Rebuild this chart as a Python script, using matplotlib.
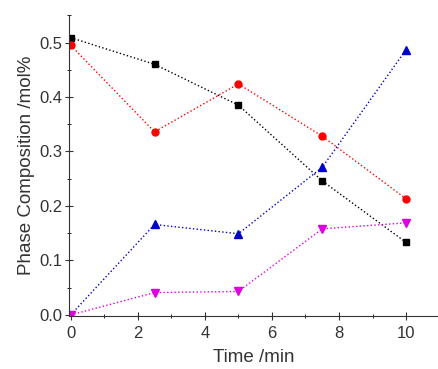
import numpy as np
import matplotlib
matplotlib.use('Agg')
import matplotlib.pyplot as plt
from matplotlib.ticker import MultipleLocator

plt.rcParams['font.family'] = ['Liberation Sans', 'DejaVu Sans']

# datos
tiempo = [0, 2.5, 5, 7.5, 10]
negro = [0.509, 0.460, 0.385, 0.246, 0.133]
rojo = [0.495, 0.336, 0.424, 0.328, 0.213]
azul = [0.0, 0.166, 0.149, 0.271, 0.487]
magenta = [0.0, 0.041, 0.043, 0.158, 0.169]

fig = plt.figure(figsize=(4.38, 3.69), dpi=100)
ax = fig.add_axes([0.1575, 0.1436, 0.8425, 0.815])

ax.plot(tiempo, negro, marker='s', linestyle=':', color='black', markersize=4.5, linewidth=1)
ax.plot(tiempo, rojo, marker='o', linestyle=':', color='red', markersize=5, linewidth=1)
ax.plot(tiempo, azul, marker='^', linestyle=':', color='#0000cc', markersize=5.5, linewidth=1)
ax.plot(tiempo, magenta, marker='v', linestyle=':', color='#e000e0', markersize=5.5, linewidth=1)

ax.set_xlim(-0.05, 10.95)
ax.set_ylim(-0.002, 0.55)
ax.spines['top'].set_visible(False)
ax.spines['right'].set_visible(False)
ax.spines['left'].set_color('#333333')
ax.spines['bottom'].set_color('#333333')
ax.xaxis.set_major_locator(MultipleLocator(2))
ax.xaxis.set_minor_locator(MultipleLocator(1))
ax.yaxis.set_major_locator(MultipleLocator(0.1))
ax.yaxis.set_minor_locator(MultipleLocator(0.05))
ax.tick_params(which='major', direction='inout', length=6, labelsize=12, colors='#333333', pad=2)
ax.tick_params(axis='x', which='major', pad=4)
ax.tick_params(which='minor', direction='inout', length=3)
ax.set_yticks([0.0, 0.1, 0.2, 0.3, 0.4, 0.5])
ax.set_yticklabels(['0.0', '0.1', '0.2', '0.3', '0.4', '0.5'])
ax.set_xlabel('Time /min', fontsize=13.5, color='#333333', labelpad=6)
ax.set_ylabel('Phase Composition /mol%', fontsize=13.5, color='#333333', labelpad=3)

plt.savefig('out.png', dpi=100)
